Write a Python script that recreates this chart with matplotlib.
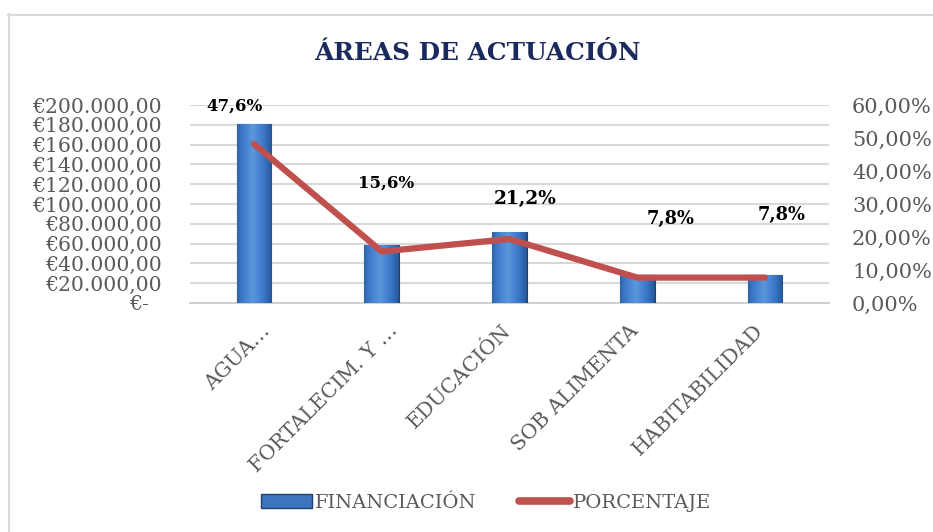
import matplotlib
matplotlib.use("Agg")
import matplotlib.pyplot as plt
import numpy as np
from matplotlib.ticker import FuncFormatter, MultipleLocator
from matplotlib.lines import Line2D
from matplotlib.patches import Patch
from matplotlib.colors import LinearSegmentedColormap
from matplotlib.transforms import ScaledTranslation

categories = ["AGUA…", "FORTALECIM. Y …", "EDUCACIÓN", "SOB ALIMENTA", "HABITABILIDAD"]
financiacion = [180500, 58600, 71400, 28300, 28300]
porcentaje = [48.2, 15.6, 19.4, 7.7, 7.7]
label_texts = ["47,6%", "15,6%", "21,2%", "7,8%", "7,8%"]
title = "ÁREAS DE ACTUACIÓN"

W, H = 933, 532
PT = 0.72  # points per pixel at 100 dpi
fig = plt.figure(figsize=(W / 100, H / 100), dpi=100)
fig.patch.set_facecolor("white")

serif = ["DejaVu Serif"]
gray = "#595959"

ax = fig.add_axes([190 / W, 1 - 303 / H, (829 - 190) / W, (303 - 105) / H])
ax2 = ax.twinx()

x = np.arange(len(categories))
bw = 0.27
bars = ax.bar(x, financiacion, width=bw, color="#3C74C0", edgecolor="#1F3F6E",
              linewidth=0.8, zorder=3)

# gradient fill on bars
grad = np.linspace(0, 1, 256)
prof = np.clip(1 - np.abs(grad - 0.45) * 1.6, 0, 1)
cmap = LinearSegmentedColormap.from_list("b", ["#1F4A86", "#3C78C8", "#5B96DC"])
img = np.tile(prof, (2, 1))
for b in bars:
    bx, by = b.get_x(), b.get_y()
    bwid, bh = b.get_width(), b.get_height()
    im = ax.imshow(img, extent=[bx, bx + bwid, by, by + bh], aspect="auto",
                   cmap=cmap, vmin=0, vmax=1, zorder=3.1, origin="lower")
    im.set_clip_path(b)
ax.set_xlim(-0.5, len(categories) - 0.5)
ax.set_ylim(0, 200000)
ax.yaxis.set_major_locator(MultipleLocator(20000))


def eur(v, pos):
    if v == 0:
        return "€-\u2007"
    s = f"{v:,.2f}"
    s = s.replace(",", "X").replace(".", ",").replace("X", ".")
    return "€" + s


ax.yaxis.set_major_formatter(FuncFormatter(eur))
ax.grid(axis="y", color="#D9D9D9", linewidth=1.5, zorder=0)
ax.set_axisbelow(True)
for s in ["top", "right", "left"]:
    ax.spines[s].set_visible(False)
ax.spines["bottom"].set_color("#D0D0D0")
ax.spines["bottom"].set_linewidth(1.5)
ax.tick_params(axis="both", length=0)
ax.tick_params(axis="y", pad=28 * PT, labelsize=14.7, labelcolor=gray)
for t in ax.get_yticklabels():
    t.set_fontfamily(serif)
ax.set_xticks(x)
ax.set_xticklabels(categories, rotation=45, ha="right",
                   fontsize=14.8, color=gray, fontfamily=serif)
ax.tick_params(axis="x", pad=13)
# horizontal nudge of category labels, pixels
xlabel_shift = [20, 20, 5, 5, 2]
for t, dx in zip(ax.get_xticklabels(), xlabel_shift):
    t.set_transform(t.get_transform() + ScaledTranslation(dx / 100, 0, fig.dpi_scale_trans))

ax2.plot(x, porcentaje, color="#C0504D", linewidth=4.5, solid_capstyle="round",
         solid_joinstyle="round", zorder=5)
ax2.set_ylim(0, 60)
ax2.yaxis.set_major_locator(MultipleLocator(10))
ax2.yaxis.set_major_formatter(FuncFormatter(lambda v, p: f"{v:.2f}%".replace(".", ",")))
for s in ["top", "right", "left", "bottom"]:
    ax2.spines[s].set_visible(False)
ax2.tick_params(axis="y", length=0, pad=23 * PT, labelsize=15.0, labelcolor=gray)
for t in ax2.get_yticklabels():
    t.set_fontfamily(serif)

# data label offsets in pixels (dx right, dy up) and font sizes
label_offsets = [(-19.5, 38), (4.5, 68), (15.5, 39.5), (33.5, 58.6), (16.5, 62.6)]
label_sizes = [12, 12, 13.4, 12.9, 12.9]
for i, (txt, off, fs) in enumerate(zip(label_texts, label_offsets, label_sizes)):
    ax2.annotate(txt, (x[i], porcentaje[i]), xytext=(off[0] * PT, off[1] * PT),
                 textcoords="offset points", ha="center", va="center",
                 fontsize=fs, fontweight="bold", color="black", fontfamily=serif,
                 zorder=6)

fig.text(477 / W, 1 - 53 / H, title, ha="center", va="center", fontsize=17.8,
         fontweight="bold", color="#1B2A5E", fontfamily=serif)

handles = [Patch(facecolor="#3C74C0", edgecolor="#1F3F6E"),
           Line2D([0], [0], color="#C0504D", linewidth=5.5, solid_capstyle="round")]
leg = fig.legend(handles, ["FINANCIACIÓN", "PORCENTAJE"], loc="center",
                 bbox_to_anchor=(486 / W, 1 - 503 / H), ncol=2, frameon=False,
                 handlelength=2.6, handleheight=0.7, handletextpad=0.15,
                 columnspacing=2.2, prop={"family": serif, "size": 14})
for t in leg.get_texts():
    t.set_color(gray)

# chart border
fig.add_artist(Line2D([8 / W, 1.0], [1 - 14.5 / H, 1 - 14.5 / H], color="#D9D9D9",
                      linewidth=1.5, transform=fig.transFigure))
fig.add_artist(Line2D([8.5 / W, 8.5 / W], [0, 1 - 14 / H], color="#D9D9D9",
                      linewidth=1.5, transform=fig.transFigure))

fig.savefig("out.png", dpi=100)
